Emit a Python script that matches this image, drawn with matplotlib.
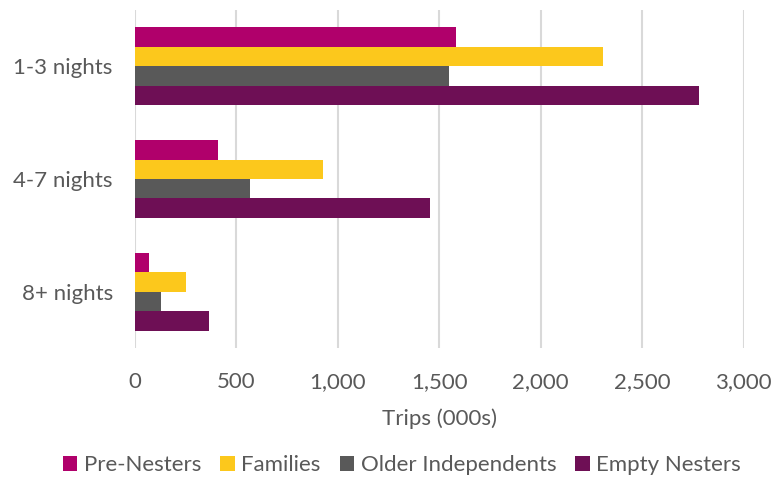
import matplotlib
matplotlib.use("Agg")
import matplotlib.pyplot as plt
import numpy as np

categories = ["1-3 nights", "4-7 nights", "8+ nights"]
series_names = ["Pre-Nesters", "Families", "Older Independents", "Empty Nesters"]
pre_nesters = [1585, 409, 67]
families = [2305, 925, 251]
older_independents = [1546, 567, 126]
empty_nesters = [2779, 1455, 365]
xticks = [0, 500, 1000, 1500, 2000, 2500, 3000]

values = [pre_nesters, families, older_independents, empty_nesters]
colors = ["#B0006B", "#FCC81C", "#595959", "#6E0F55"]

plt.rcParams['font.family'] = ['Lato', 'DejaVu Sans']
text_color = "#595959"
fs = 16

fig = plt.figure(figsize=(7.8, 4.8), dpi=100)
ax = fig.add_axes([135/780, 1-348/480, (743.5-135)/780, (348-10)/480])

y = np.arange(len(categories))
h = 0.1725
for i, (name, vals, c) in enumerate(zip(series_names, values, colors)):
    ax.barh(y + (i - 1.5) * h, vals, height=h, color=c, label=name, zorder=3)

ax.set_ylim(2.5, -0.5)
ax.set_xlim(0, 3000)
ax.set_xticks(xticks)
ax.set_xticklabels([f"{v:,}" for v in xticks])
ax.set_yticks(y)
ax.set_yticklabels(categories)
ax.tick_params(axis='both', length=0, labelsize=fs, colors=text_color)
ax.tick_params(axis='x', pad=17)
ax.tick_params(axis='y', pad=16)
ax.grid(axis='x', color="#D9D9D9", linewidth=1.5, zorder=0)
for s in ax.spines.values():
    s.set_visible(False)
ax.set_xlabel("Trips (000s)", fontsize=fs, color=text_color, labelpad=12)

leg = fig.legend(loc='center', bbox_to_anchor=(402/780, 1-465/480), ncol=4, frameon=False,
                 fontsize=fs, handlelength=0.65, handleheight=0.65, handletextpad=0.3,
                 columnspacing=0.85, labelcolor=text_color)

fig.savefig("out.png", dpi=100)
